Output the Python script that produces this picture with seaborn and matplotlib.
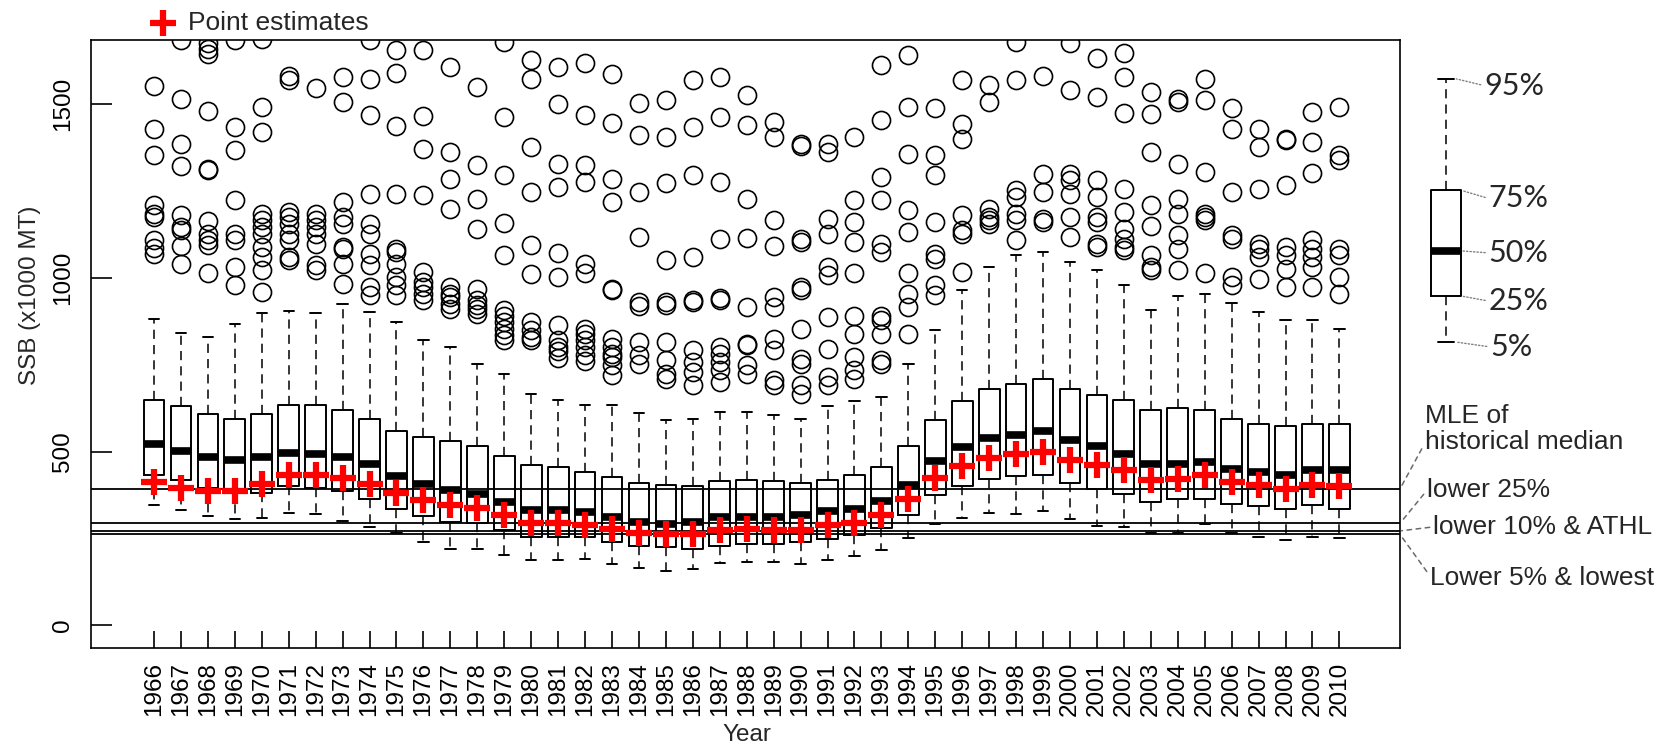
import matplotlib
matplotlib.use('Agg')
import matplotlib.pyplot as plt
import matplotlib.transforms as mtransforms
import seaborn as sns
import numpy as np

# spawning stock biomass, x1000 MT, by year
years = list(range(1966, 2011))

p05 = [347, 331, 315, 305, 310, 323, 320, 300, 283, 266, 240, 221, 221, 203, 189, 189,
       190, 176, 165, 158, 161, 180, 182, 182, 178, 189, 199, 218, 252, 291, 310, 325, 322, 329,
       305, 287, 283, 266, 266, 293, 266, 254, 247, 254, 252]
q25 = [434, 419, 396, 392, 382, 401, 396, 387, 364, 336, 314, 298, 295, 274, 254, 254,
       254, 240, 230, 226, 221, 230, 235, 235, 240, 248, 259, 281, 319, 374, 401, 420, 429, 434,
       410, 394, 377, 355, 365, 365, 350, 343, 336, 347, 336]
q50 = [521, 501, 484, 475, 484, 497, 493, 484, 465, 429, 406, 389, 379, 355, 333, 333,
       326, 312, 298, 293, 298, 312, 312, 312, 317, 329, 336, 357, 403, 472, 514, 539, 549, 561,
       535, 516, 494, 465, 465, 470, 451, 443, 434, 446, 446]
q75 = [650, 631, 608, 593, 608, 635, 635, 621, 593, 561, 542, 530, 515, 488, 461, 456,
       442, 427, 410, 405, 401, 415, 419, 415, 410, 419, 434, 456, 516, 590, 645, 681, 696, 710,
       681, 662, 648, 621, 626, 621, 593, 579, 574, 581, 581]
p95 = [883, 843, 830, 869, 900, 905, 900, 926, 902, 873, 821, 801, 753, 723, 667, 648,
       633, 633, 612, 592, 595, 614, 614, 605, 595, 632, 646, 657, 751, 851, 965, 1032, 1065, 1075,
       1046, 1024, 979, 909, 947, 955, 929, 902, 878, 880, 854]
point_est = [413, 396, 386, 386, 408, 434, 434, 424, 406, 382, 362, 348, 339, 317, 295, 295,
             288, 278, 266, 262, 262, 274, 278, 275, 274, 288, 295, 317, 365, 425, 458, 483, 494, 499,
             477, 461, 446, 418, 422, 432, 413, 403, 394, 403, 401]
outliers = [
    [1552, 1430, 1353, 1209, 1185, 1176, 1109, 1085, 1070],
    [1684, 1514, 1385, 1322, 1180, 1147, 1137, 1091, 1041],
    [1675, 1660, 1646, 1481, 1315, 1310, 1164, 1128, 1109, 1094, 1014],
    [1684, 1435, 1368, 1224, 1128, 1110, 1032, 979],
    [1689, 1492, 1420, 1185, 1166, 1147, 1128, 1089, 1060, 1022, 960],
    [1581, 1569, 1190, 1176, 1156, 1128, 1109, 1060, 1051],
    [1548, 1185, 1166, 1147, 1128, 1099, 1037, 1022],
    [1579, 1507, 1219, 1176, 1156, 1089, 1084, 1041, 984],
    [1684, 1574, 1468, 1243, 1156, 1128, 1070, 1037, 974, 950],
    [1656, 1590, 1437, 1243, 1084, 1075, 1041, 1003, 979, 950],
    [1657, 1465, 1372, 1238, 1017, 989, 974, 955, 936],
    [1608, 1363, 1286, 1200, 974, 955, 945, 926, 912],
    [1550, 1324, 1227, 1142, 969, 936, 921, 912, 897],
    [1680, 1463, 1296, 1158, 1065, 907, 892, 873, 854, 835, 821],
    [1627, 1574, 1377, 1248, 1096, 1011, 873, 849, 830, 821],
    [1608, 1500, 1329, 1262, 1072, 1003, 864, 821, 801, 790, 770],
    [1619, 1468, 1324, 1276, 1041, 1013, 854, 840, 821, 801, 777, 760],
    [1586, 1446, 1286, 1219, 969, 964, 825, 801, 782, 773, 749, 720],
    [1504, 1411, 1248, 1118, 931, 919, 816, 777, 753],
    [1512, 1406, 1272, 1051, 931, 921, 816, 763, 725, 710],
    [1571, 1435, 1296, 1061, 936, 931, 792, 758, 729, 691],
    [1579, 1464, 1276, 1113, 941, 936, 801, 782, 758, 734, 701],
    [1526, 1440, 1228, 1116, 917, 811, 806, 749, 725],
    [1449, 1406, 1166, 1091, 945, 917, 825, 792, 705, 691],
    [1385, 1379, 1113, 1104, 974, 964, 854, 768, 753, 691, 667],
    [1387, 1363, 1171, 1128, 1032, 1008, 888, 797, 715, 691],
    [1406, 1224, 1161, 1104, 1013, 892, 840, 773, 734, 710],
    [1612, 1454, 1291, 1224, 1099, 1075, 892, 878, 840, 763, 753],
    [1641, 1492, 1356, 1195, 1133, 1013, 955, 917, 840],
    [1490, 1353, 1296, 1161, 1070, 1056, 979, 950],
    [1569, 1444, 1401, 1180, 1137, 1128, 1017],
    [1555, 1507, 1200, 1176, 1166, 1156],
    [1680, 1571, 1252, 1233, 1185, 1166, 1109],
    [1581, 1300, 1248, 1171, 1161],
    [1675, 1542, 1300, 1281, 1243, 1176, 1118],
    [1632, 1521, 1281, 1233, 1176, 1161, 1099, 1089],
    [1648, 1579, 1475, 1257, 1190, 1142, 1113, 1089, 1080],
    [1536, 1473, 1363, 1209, 1149, 1065, 1032, 1022],
    [1516, 1507, 1329, 1228, 1185, 1123, 1084, 1022],
    [1572, 1513, 1305, 1185, 1176, 1166, 1013],
    [1488, 1430, 1248, 1123, 1113, 1003, 979],
    [1430, 1377, 1257, 1099, 1084, 1060, 998],
    [1401, 1398, 1267, 1089, 1065, 1027, 974],
    [1478, 1392, 1302, 1109, 1084, 1060, 1032, 974],
    [1492, 1353, 1339, 1084, 1065, 1003, 955],
]

# reference levels and their labels
ref_values = [393, 294, 272, 262]
ref_labels = ['MLE of\nhistorical median', 'lower 25%', 'lower 10% & ATHL', 'Lower 5% & lowest']
ref_offsets = [(25, 60), (27, 33), (33, 4), (30, -44)]
ref_relpos = [(0, 0.22), (0, 0.5), (0, 0.5), (0, 0.6)]

# the key box drawn beside the plot
key_stats = dict(whislo=816, q1=948, med=1078, q3=1252, whishi=1574)
key_labels = ['95%', '75%', '50%', '25%', '5%']

sns.set_style('white')
plt.rcParams['font.family'] = ['Liberation Sans', 'DejaVu Sans']

W, H = 1669, 748
fig = plt.figure(figsize=(W / 100, H / 100), dpi=100)
ax = fig.add_axes([91 / W, 1 - 648 / H, 1309 / W, 608 / H])

pos = np.arange(len(years))
stats = [dict(whislo=a, q1=b, med=c, q3=d, whishi=e, fliers=f)
         for a, b, c, d, e, f in zip(p05, q25, q50, q75, p95, outliers)]

box_kw = dict(
    boxprops=dict(color='black', lw=1.4),
    medianprops=dict(color='black', lw=5.5, solid_capstyle='butt'),
    whiskerprops=dict(color='black', lw=1.1, ls=(0, (6, 4))),
    capprops=dict(color='black', lw=1.4),
    flierprops=dict(marker='o', mfc='none', mec='black', ms=13, mew=1.2),
)
ax.bxp(stats, positions=pos, widths=0.77, **box_kw)

for v in ref_values:
    ax.axhline(v, color='black', lw=1.3, zorder=1)

sns.scatterplot(x=pos, y=point_est, marker='+', s=330, color='red', linewidth=4.5,
                ax=ax, label='Point estimates', zorder=6)

ax.set_xlim(-2.34, 46.25)
ax.set_ylim(-65, 1685)
ax.set_xticks(pos)
ax.set_xticklabels(years, rotation=90)
ax.set_yticks([0, 500, 1000, 1500])
ax.set_yticklabels(['0', '500', '1000', '1500'], rotation=90, va='center')
ax.tick_params(axis='x', bottom=True, direction='in', length=12.5, width=1.2,
               pad=10, labelsize=17.5, colors='black')
ax.tick_params(axis='y', left=True, direction='in', length=15, width=1.2,
               pad=12, labelsize=17.5, colors='black')
for s in ax.spines.values():
    s.set_color('black')
    s.set_linewidth(1.2)

ax.set_xlabel('Year', fontsize=17.5)
ax.xaxis.set_label_coords(0.501, -0.125)
ax.set_ylabel('SSB (x1000 MT)', fontsize=17.5)
ax.yaxis.set_label_coords(-0.038, 0.58)

ax.legend(loc='center left', bbox_to_anchor=(0.045, 1.028), frameon=False, fontsize=19,
          handletextpad=0.45, borderpad=0, borderaxespad=0, handlelength=1.0)

# labels for the reference lines, right of the frame
trans = mtransforms.blended_transform_factory(ax.transAxes, ax.transData)
for v, lab, off, rp in zip(ref_values, ref_labels, ref_offsets, ref_relpos):
    ax.annotate(lab, xy=(1, v), xycoords=trans, xytext=off, textcoords='offset pixels',
                ha='left', va='center', fontsize=19, linespacing=1.1, annotation_clip=False,
                arrowprops=dict(arrowstyle='-', ls=(0, (3, 3)), color='dimgray', lw=1.1,
                                shrinkA=0, shrinkB=1, relpos=rp))

# key box, same y scale as the main panel
ax_key = fig.add_axes([1410 / W, 1 - 648 / H, 72 / W, 608 / H], sharey=ax)
ax_key.bxp([dict(key_stats, fliers=[])], positions=[0], widths=0.86, **box_kw)
ax_key.set_xlim(-1, 1)
ax_key.axis('off')

key_points = [(0.25, key_stats['whishi']), (0.43, key_stats['q3']), (0.43, key_stats['med']),
              (0.43, key_stats['q1']), (0.25, key_stats['whislo'])]
key_offsets = [(29, -7), (27, -8), (27, -2), (27, -5), (35, -5)]
for lab, xy, off in zip(key_labels, key_points, key_offsets):
    ax_key.annotate(lab, xy=xy, xytext=off, textcoords='offset pixels', ha='left', va='center',
                    fontsize=22, family=['Lato', 'DejaVu Sans'], annotation_clip=False,
                    arrowprops=dict(arrowstyle='-', ls=(0, (1, 1.5)), color='gray', lw=1.0,
                                    shrinkA=0, shrinkB=1, relpos=(0, 0.5)))

fig.savefig('out.png', dpi=100)
